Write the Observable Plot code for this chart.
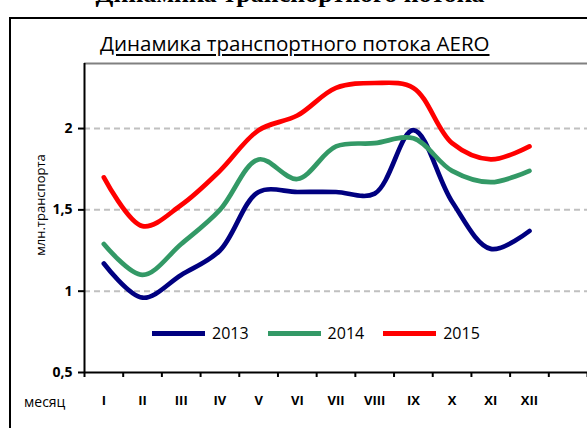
<!DOCTYPE html>
<html>
<head>
<meta charset="utf-8">
<script src="https://cdn.jsdelivr.net/npm/d3@7"></script>
<script src="https://cdn.jsdelivr.net/npm/@observablehq/plot@0.6"></script>
<style>
  html, body { margin: 0; padding: 0; background: #fff; }
  #wrap { position: relative; width: 587px; height: 428px; overflow: hidden; font-family: "Open Sans", sans-serif; }
  #wrap svg { position: absolute; left: 0; top: 0; }
  .ov { position: absolute; white-space: nowrap; }
</style>
</head>
<body>
<div id="wrap"></div>
<script>
const months = ["I", "II", "III", "IV", "V", "VI", "VII", "VIII", "IX", "X", "XI", "XII"];
const years = ["2013", "2014", "2015"];
const v2013 = [1.17, 0.96, 1.10, 1.25, 1.61, 1.61, 1.61, 1.60, 1.99, 1.55, 1.26, 1.37];
const v2014 = [1.29, 1.10, 1.29, 1.50, 1.81, 1.69, 1.89, 1.91, 1.94, 1.74, 1.67, 1.74];
const v2015 = [1.70, 1.40, 1.53, 1.74, 1.99, 2.08, 2.25, 2.28, 2.25, 1.91, 1.81, 1.89];
const colors = ["#000080", "#339966", "#ff0000"];
const yTicks = [0.5, 1, 1.5, 2];
const gridValues = [1, 1.5, 2];
const titleText = "Динамика транспортного потока AERO";
const headingText = "Динамика транспортного потока";
const yLabel = "млн.транспорта";
const xLabel = "месяц";

const seriesValues = [v2013, v2014, v2015];
const rows = [];
years.forEach((yr, s) => seriesValues[s].forEach((v, i) => rows.push({year: yr, m: i + 0.5, v})));

const boundaries = d3.range(0, 14);
const centers = months.map((_, i) => i + 0.5);

const chart = Plot.plot({
  width: 587,
  height: 428,
  marginLeft: 84,
  marginRight: 0,
  marginTop: 63,
  marginBottom: 56,
  style: {fontFamily: "Open Sans, sans-serif", background: "transparent", overflow: "visible"},
  x: {type: "linear", domain: [0, 13], axis: null},
  y: {domain: [0.5, 2.4], axis: null},
  color: {domain: years, range: colors},
  marks: [
    Plot.ruleY(gridValues, {stroke: "#c0c0c0", strokeWidth: 2, strokeDasharray: "6,4"}),
    Plot.ruleY([2.4], {stroke: "#808080", strokeWidth: 2}),
    Plot.axisY({ticks: yTicks, tickFormat: d => String(d).replace(".", ","), tickSize: 6, tickPadding: 6,
      strokeWidth: 2, stroke: "#000", fill: "#000", fontWeight: "bold", fontSize: 14, label: null}),
    Plot.axisX({ticks: boundaries, tickFormat: () => "", tickSize: 5, strokeWidth: 2, stroke: "#000", label: null}),
    Plot.axisX({ticks: centers, tickFormat: (d) => months[Math.round(d - 0.5)], tickSize: 0, tickPadding: 23,
      fill: "#000", fontWeight: "bold", fontSize: 13, label: null}),
    Plot.line(rows, {x: "m", y: "v", z: "year", stroke: "year", strokeWidth: 4.7, curve: "catmull-rom"}),
    Plot.ruleX([0], {stroke: "#000", strokeWidth: 2}),
    Plot.ruleY([0.5], {stroke: "#000", strokeWidth: 2})
  ]
});

const wrap = document.getElementById("wrap");

// outer frame
const frame = document.createElement("div");
frame.className = "ov";
Object.assign(frame.style, {left: "9px", top: "17px", width: "600px", height: "420px",
  borderLeft: "2px solid #000", borderTop: "2px solid #000"});
wrap.appendChild(frame);

wrap.appendChild(chart);

// cut-off heading
const heading = document.createElement("div");
heading.className = "ov";
heading.textContent = headingText;
Object.assign(heading.style, {left: "0", width: "580px", textAlign: "center", top: "-19px",
  fontFamily: "Liberation Serif, serif", fontWeight: "bold", fontSize: "26px", lineHeight: "26px"});
wrap.appendChild(heading);

// title
const title = document.createElement("div");
title.className = "ov";
title.textContent = titleText;
Object.assign(title.style, {left: "100px", top: "31px", fontSize: "20.5px", lineHeight: "24px",
  textDecoration: "underline", textUnderlineOffset: "3px", color: "#000"});
wrap.appendChild(title);

// y label
const yl = document.createElement("div");
yl.className = "ov";
yl.textContent = yLabel;
Object.assign(yl.style, {left: "40px", top: "205px", fontSize: "13px", lineHeight: "18px",
  transform: "translate(-50%, -50%) rotate(-90deg)", color: "#000"});
wrap.appendChild(yl);

// x label
const xl = document.createElement("div");
xl.className = "ov";
xl.textContent = xLabel;
Object.assign(xl.style, {left: "24px", top: "393px", fontSize: "14px", lineHeight: "18px", color: "#000"});
wrap.appendChild(xl);

// legend
const legend = document.createElement("div");
legend.className = "ov";
Object.assign(legend.style, {left: "152px", top: "322px", display: "flex", alignItems: "center", fontSize: "16px"});
years.forEach((yr, i) => {
  const item = document.createElement("div");
  Object.assign(item.style, {display: "flex", alignItems: "center", marginRight: "19px"});
  const sw = document.createElement("span");
  Object.assign(sw.style, {display: "inline-block", width: "53px", height: "5px", background: colors[i], marginRight: "7px"});
  const lab = document.createElement("span");
  lab.textContent = yr;
  item.appendChild(sw);
  item.appendChild(lab);
  legend.appendChild(item);
});
wrap.appendChild(legend);
</script>
</body>
</html>
